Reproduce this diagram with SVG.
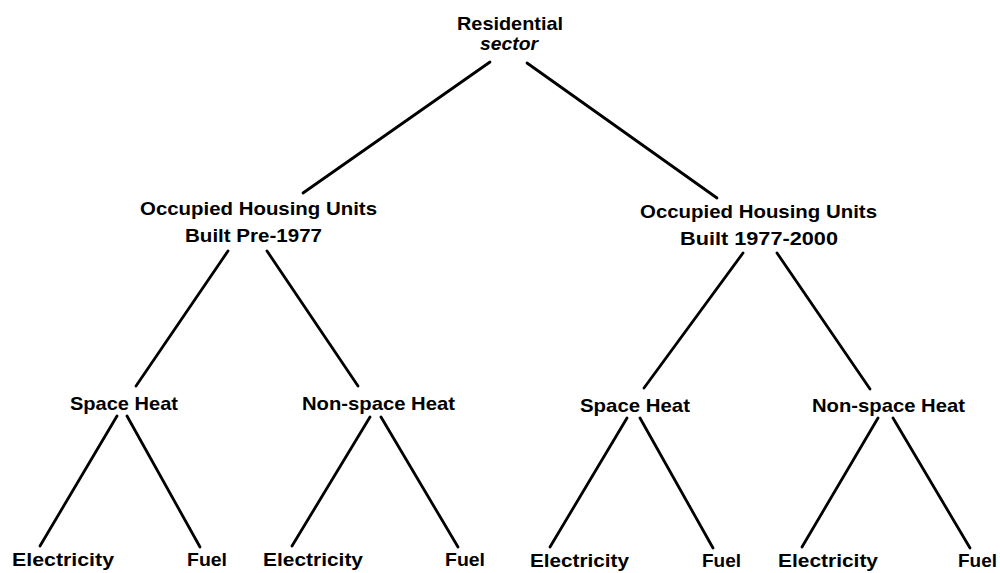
<svg xmlns="http://www.w3.org/2000/svg" width="1000" height="573" viewBox="0 0 1000 573">
<style>
text{font-family:"Liberation Sans",Arial,sans-serif;font-weight:bold;font-size:19px;fill:#000}
.c line{stroke:#000;stroke-width:2.8;stroke-linecap:round}
</style>
<rect width="1000" height="573" fill="#fff"/>
<g class="c" id="connectors">
<line x1="490" y1="62" x2="303" y2="193"/>
<line x1="527" y1="63" x2="717" y2="198"/>
<line x1="228" y1="251" x2="136" y2="386"/>
<line x1="267" y1="251" x2="358" y2="386"/>
<line x1="743" y1="253" x2="644" y2="388"/>
<line x1="777" y1="253" x2="870" y2="389"/>
<line x1="117" y1="416" x2="40" y2="546"/>
<line x1="127" y1="416" x2="200" y2="547"/>
<line x1="370" y1="417" x2="292" y2="546"/>
<line x1="381" y1="417" x2="458" y2="547"/>
<line x1="627" y1="418" x2="550" y2="547"/>
<line x1="640" y1="418" x2="713" y2="548"/>
<line x1="878" y1="418" x2="802" y2="547"/>
<line x1="893" y1="418" x2="970" y2="548"/>
</g>
<g id="root"><text x="457" y="30" textLength="106" lengthAdjust="spacingAndGlyphs">Residential</text><text x="480" y="50" textLength="58" lengthAdjust="spacingAndGlyphs" font-style="italic">sector</text></g>
<g id="pre1977"><text x="140" y="215" textLength="237" lengthAdjust="spacingAndGlyphs">Occupied Housing Units</text><text x="185" y="242" textLength="137" lengthAdjust="spacingAndGlyphs">Built Pre-1977</text></g>
<g id="post1977"><text x="640" y="218" textLength="237" lengthAdjust="spacingAndGlyphs">Occupied Housing Units</text><text x="680" y="245" textLength="158" lengthAdjust="spacingAndGlyphs">Built 1977-2000</text></g>
<g id="sh1"><text x="70" y="410" textLength="108" lengthAdjust="spacingAndGlyphs">Space Heat</text></g>
<g id="nsh1"><text x="302" y="410" textLength="153" lengthAdjust="spacingAndGlyphs">Non-space Heat</text></g>
<g id="sh2"><text x="580" y="412" textLength="110" lengthAdjust="spacingAndGlyphs">Space Heat</text></g>
<g id="nsh2"><text x="812" y="412" textLength="153" lengthAdjust="spacingAndGlyphs">Non-space Heat</text></g>
<g id="e1"><text x="12" y="566" textLength="102" lengthAdjust="spacingAndGlyphs">Electricity</text></g>
<g id="f1"><text x="187" y="566" textLength="40" lengthAdjust="spacingAndGlyphs">Fuel</text></g>
<g id="e2"><text x="263" y="566" textLength="100" lengthAdjust="spacingAndGlyphs">Electricity</text></g>
<g id="f2"><text x="445" y="566" textLength="40" lengthAdjust="spacingAndGlyphs">Fuel</text></g>
<g id="e3"><text x="530" y="567" textLength="99" lengthAdjust="spacingAndGlyphs">Electricity</text></g>
<g id="f3"><text x="702" y="567" textLength="39" lengthAdjust="spacingAndGlyphs">Fuel</text></g>
<g id="e4"><text x="778" y="567" textLength="100" lengthAdjust="spacingAndGlyphs">Electricity</text></g>
<g id="f4"><text x="958" y="567" textLength="39" lengthAdjust="spacingAndGlyphs">Fuel</text></g>
</svg>
